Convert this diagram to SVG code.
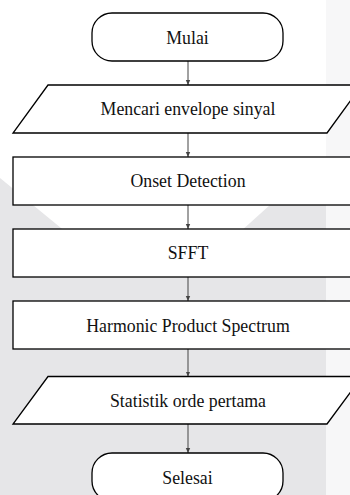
<svg xmlns="http://www.w3.org/2000/svg" width="350" height="495" viewBox="0 0 350 495">
<style>
.shape{fill:#ffffff;stroke:#000000;stroke-width:1.3}
text{font-family:"Liberation Serif","Times New Roman",serif;font-size:17.8px;fill:#111111;text-anchor:middle}
.conn{stroke:#444444;stroke-width:1;fill:none;marker-end:url(#ah)}
</style>
<defs>
<marker id="ah" markerWidth="6" markerHeight="6" refX="5" refY="3" orient="auto" markerUnits="userSpaceOnUse">
<path d="M0,0.8 L5,3 L0,5.2 Z" fill="#444444"/>
</marker>
</defs>
<rect x="0" y="0" width="350" height="495" fill="#ffffff"/>
<g id="watermark">
<rect x="326" y="0" width="24" height="495" fill="#f7f7f8"/>
<path d="M0,178 L100,260 L209,260 L322,158 L326,158 L326,495 L0,495 Z" fill="#e6e6e8"/>
</g>
<g id="connectors">
<line class="conn" x1="188" y1="61" x2="188" y2="85"/>
<line class="conn" x1="188" y1="133" x2="188" y2="157"/>
<line class="conn" x1="188" y1="205" x2="188" y2="229"/>
<line class="conn" x1="188" y1="277" x2="188" y2="301"/>
<line class="conn" x1="188" y1="349" x2="188" y2="376.5"/>
<line class="conn" x1="188" y1="424" x2="188" y2="453"/>
</g>
<g id="mulai">
<rect class="shape" x="92" y="13" width="191" height="48" rx="20" ry="20"/>
<text x="187.5" y="44">Mulai</text>
</g>
<g id="envelope">
<polygon class="shape" points="48,85 362,85 327,133 13,133"/>
<text x="188" y="115">Mencari envelope sinyal</text>
</g>
<g id="onset">
<rect class="shape" x="13" y="157" width="345" height="48"/>
<text x="188" y="187">Onset Detection</text>
</g>
<g id="sfft">
<rect class="shape" x="13" y="229" width="345" height="48"/>
<text x="188" y="259">SFFT</text>
</g>
<g id="hps">
<rect class="shape" x="13" y="301" width="345" height="48"/>
<text x="188" y="331.5">Harmonic Product Spectrum</text>
</g>
<g id="statistik">
<polygon class="shape" points="48,376.5 362,376.5 327,424 13,424"/>
<text x="188" y="406.5">Statistik orde pertama</text>
</g>
<g id="selesai">
<rect class="shape" x="92" y="453" width="191" height="48" rx="20" ry="20"/>
<text x="187.5" y="484">Selesai</text>
</g>
</svg>
